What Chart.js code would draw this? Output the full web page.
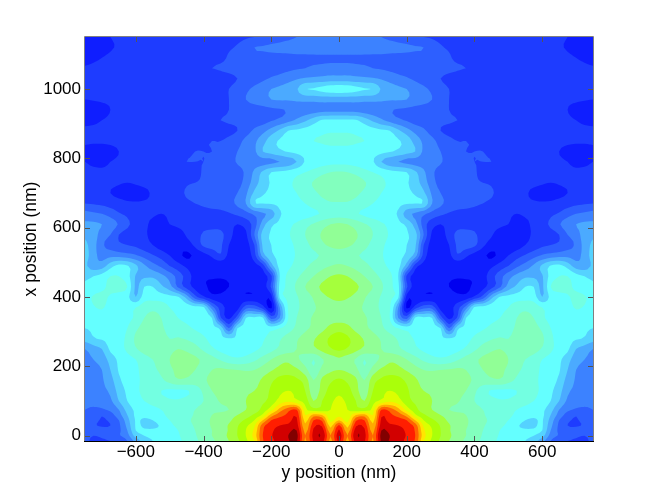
<!DOCTYPE html>
<html>
<head>
<meta charset="utf-8">
<title>field map</title>
<script src="https://cdn.jsdelivr.net/npm/chart.js@4/dist/chart.umd.min.js"></script>
<style>
  html, body { margin: 0; padding: 0; background: #fff; }
  canvas { display: block; }
</style>
</head>
<body>
<canvas id="fieldChart" width="654" height="498"></canvas>
<script>
// y position columns (nm), right half only, the map is mirrored around 0
const yColumns = [0, 25, 50, 75, 100, 125, 150, 175, 200, 225, 250, 275, 300, 325, 350, 375, 400, 425, 450, 475, 500, 525, 550, 575, 600, 625, 650, 675, 700, 725, 750];
// x position of each row (nm), bottom to top
const xRows = [-15, 0, 15, 30, 45, 60, 75, 100, 130, 160, 190, 220, 250, 280, 310, 340, 370, 400, 430, 460, 490, 520, 550, 580, 610, 640, 670, 700, 730, 760, 790, 820, 850, 880, 910, 940, 970, 1000, 1030, 1060, 1090, 1120, 1150];
// field level, one row per xRows entry
const fieldLevels = [
  [18.4, 15.6, 18.6, 18.2, 15.8, 19.2, 18.9, 18.5, 17.7, 16.9, 14, 12.8, 11.8, 11, 10.4, 9.8, 9.3, 8.8, 8.3, 7.8, 7.4, 7.2, 7, 6.4, 5.4, 4, 3.2, 3, 2.8, 2.8, 3.2],
  [18.6, 16, 18.9, 18.4, 16, 19.4, 19, 18.6, 17.9, 17, 14.4, 13, 12, 11.2, 10.5, 10, 9.5, 8.9, 8.4, 7.9, 7.5, 7.3, 7.2, 7, 6.4, 4.6, 3.9, 3.6, 3.2, 3, 3.4],
  [18.2, 15.4, 18.6, 18.2, 15.6, 19, 18.7, 18.4, 17.8, 16.9, 14.2, 13, 12, 11.1, 10.5, 10, 9.5, 9, 8.5, 8, 7.6, 7.3, 7.2, 7.1, 7, 5, 3.8, 3.4, 3.6, 3.8, 3.6],
  [17.2, 14.6, 17.8, 17.7, 15.2, 18.5, 18.2, 18, 17.6, 16.6, 13.8, 12.8, 11.9, 11.1, 10.5, 10.1, 9.6, 9.1, 8.7, 8.2, 7.8, 7.2, 6.6, 6.8, 7.1, 5.3, 3.8, 3, 2.8, 3.2, 3.7],
  [15, 13.6, 16.8, 17, 14.6, 18.2, 17.6, 17.4, 17, 15, 13, 12.2, 11.5, 10.8, 10.4, 10.1, 9.7, 9.2, 8.8, 8.3, 8, 7.7, 7, 6.8, 7.1, 5.6, 4, 3.2, 2.9, 3.4, 3.9],
  [13.7, 13.2, 15, 15.4, 14, 17.8, 17.2, 16.6, 15.4, 13.2, 12.2, 11.5, 11, 10.6, 10.3, 10, 9.6, 9.1, 8.7, 8.3, 8.1, 7.9, 7.6, 7.3, 7.2, 6, 4.6, 3.6, 3.1, 3.6, 4],
  [13.5, 13, 12.4, 12.4, 13.4, 17, 16.6, 15.4, 13.6, 12.4, 11.4, 11, 10.6, 10, 9.8, 9.8, 9.4, 9, 8.6, 8.3, 8.1, 8, 7.8, 7.5, 7.2, 6.4, 5, 4.2, 3.9, 3.9, 4],
  [13.2, 12.8, 12, 11, 12.6, 13.2, 13.8, 13.4, 12.4, 11.8, 11.3, 11, 10.7, 10.4, 10.1, 9.6, 9, 8.6, 8.3, 8.1, 8.1, 8.2, 8.2, 8, 7.6, 7, 6, 4.8, 4.4, 4.2, 4.2],
  [12.8, 12.4, 11.4, 10.4, 12, 12.8, 13, 12.8, 12.2, 11.4, 11, 10.9, 10.8, 10.6, 10.4, 10, 9.2, 8.4, 7.9, 7.8, 7.8, 8, 8.2, 8.2, 7.8, 7.2, 6.4, 5.2, 4.8, 4.6, 4.6],
  [12.2, 11.8, 11.2, 10, 11.6, 12.2, 12.6, 12.4, 11.8, 11.2, 10.6, 10.6, 10.7, 10.8, 10.7, 10.4, 9.8, 9.6, 9.8, 9.9, 9.4, 8.8, 8.4, 8.2, 7.8, 7.4, 6.8, 5.6, 4.9, 4.7, 4.6],
  [11, 10.8, 10.3, 9.2, 10.4, 11.2, 11.4, 11.3, 10.9, 10.4, 10, 9.9, 10, 10.1, 10.2, 10, 9.6, 10, 10.2, 10.2, 9.8, 9.2, 8.8, 8.4, 7.8, 7.4, 7.1, 6, 5, 4.8, 4.7],
  [10.8, 10.4, 9.9, 9, 9.6, 10.2, 10.8, 10.6, 10, 9.4, 8.8, 8.4, 8.2, 8.4, 8.9, 9.4, 9.8, 10.2, 10.4, 10.4, 10, 9.4, 9, 8.6, 8, 7.6, 7.2, 6.4, 5.4, 5, 4.8],
  [12.2, 11.9, 11.3, 10.8, 10.4, 10, 9.6, 9.2, 8.7, 8.2, 7.8, 7.5, 7.4, 7.5, 7.7, 8.2, 8.8, 9.4, 9.8, 10, 9.7, 9.6, 9.6, 9.4, 8.9, 8.2, 7.6, 7.2, 6, 5.5, 5],
  [12.6, 12.2, 11.5, 10.9, 10.4, 9.9, 9.4, 8.9, 8.4, 7.9, 7.6, 7.3, 7.1, 7.1, 7.2, 7.6, 8.2, 8.6, 8.9, 9.1, 9, 9.5, 9.8, 9.8, 9.2, 8.2, 7.7, 7.3, 7.1, 6.9, 6.4],
  [11.6, 11.3, 10.7, 10.2, 9.8, 9.2, 8.6, 8, 7.6, 7.4, 7.3, 7.2, 7, 4, 6.8, 7.2, 7.6, 7.9, 8.2, 8.4, 8.6, 9.2, 9.6, 9.4, 8.8, 8, 7.6, 7.3, 7.2, 7.1, 7],
  [10.6, 10.6, 10.4, 10.1, 9.7, 9, 8, 5, 3.6, 7.2, 7.2, 7, 3.6, 1.8, 3.2, 7, 7.3, 7.6, 7.8, 8, 8.3, 9, 9.2, 9, 8.2, 7.7, 7.4, 7.2, 7.5, 7.3, 7.1],
  [10.6, 10.5, 10.2, 9.9, 9.4, 8.8, 8.1, 5, 0.8, 2.5, 3.6, 3.6, 1.6, 1.6, 2.6, 4.5, 7.2, 7.4, 7.6, 7.8, 8, 8.6, 8.8, 8.6, 8, 7.6, 7.4, 7.6, 8.1, 7.9, 7.4],
  [11.3, 11.1, 10.7, 10.1, 9.5, 8.9, 8.2, 7.2, 1.6, 1.2, 1.2, 1.2, 1.3, 1.4, 1.3, 1.4, 2.2, 3.4, 5.6, 7.1, 7.3, 7.5, 7.6, 7.5, 6, 7.3, 7.6, 7.9, 8.2, 8.1, 7.6],
  [12, 11.7, 11.2, 10.6, 10, 9.2, 8.2, 7.3, 3.2, 1.5, 1.2, 1.1, 1.1, 1, 0.7, 0.8, 1.2, 1.7, 2.6, 3.8, 5.4, 6.2, 7, 7, 5.8, 8, 8.4, 8.2, 7.8, 7.4, 7.2],
  [11.2, 11, 10.5, 10, 9.4, 8.8, 8.2, 7, 2.8, 1.6, 1.3, 1.2, 1.2, 1.1, 1.1, 1.1, 1.1, 1.6, 2.6, 3.6, 4.6, 5.3, 5.8, 5.8, 5.9, 7.4, 8, 8, 7.4, 7, 6.8],
  [10.2, 10, 9.7, 9.3, 8.8, 8.3, 7.8, 7.3, 5.5, 2.5, 1.6, 1.3, 1.2, 1.2, 1.2, 1.2, 1.3, 1.4, 1.8, 2.4, 3, 3.8, 4.4, 5.2, 6.2, 7.1, 7.3, 6.6, 5.5, 5.4, 6.2],
  [9.4, 9.3, 9.1, 8.8, 8.5, 8.1, 7.6, 7.2, 6.8, 5.5, 2.6, 1.4, 1.4, 1.7, 2.9, 2.2, 1.6, 1.2, 0.8, 1.3, 2, 2.6, 3.1, 3.6, 4.1, 4.4, 4.6, 4.7, 4.6, 5.4, 6.4],
  [10.4, 10.2, 9.8, 9.3, 8.7, 8.2, 7.7, 7.3, 7, 6.2, 3, 1.6, 1.5, 2, 3.2, 3.4, 3.2, 2.2, 1.6, 1.3, 1.2, 1.5, 2, 2.4, 2.8, 3, 3.2, 3.6, 4.2, 5.4, 6.2],
  [10.6, 10.5, 10.1, 9.6, 9, 8.4, 7.9, 7.4, 7.1, 6.4, 4, 1.8, 1.6, 2.4, 3.3, 3.4, 3.2, 2.4, 2.1, 1.5, 1.2, 1.4, 1.8, 2.1, 2.3, 2.6, 3, 4, 4.5, 5.5, 5.8],
  [10.2, 10, 9.6, 9.1, 8.7, 8.2, 7.7, 7.2, 6.8, 5.5, 3.5, 2.4, 2, 2.4, 2.6, 2.6, 2.5, 2.4, 2.3, 2.2, 2, 1.6, 1.8, 2.2, 2.6, 3.2, 3.9, 4.6, 5, 5.2, 5.2],
  [8.5, 8.4, 8.1, 7.8, 7.5, 7.2, 7.1, 6.9, 5.4, 4.8, 4.2, 3.6, 3.2, 2.9, 2.7, 2.6, 2.5, 2.4, 2.3, 2.2, 2.1, 2, 2.1, 2.2, 2.4, 2.8, 3.1, 3.6, 4, 4.2, 4.4],
  [8.9, 8.9, 8.7, 8.4, 8, 7.7, 7.4, 7.2, 7.1, 7, 6.9, 5, 4.2, 3.7, 3.5, 3.4, 3.2, 3, 2.8, 2.5, 2.3, 2.2, 2.1, 2.1, 2.1, 2.2, 2.4, 2.6, 2.8, 2.9, 3],
  [9.6, 9.5, 9.2, 8.8, 8.4, 8, 7.7, 7.3, 7.1, 6.9, 6.2, 4.8, 4, 3.6, 3.5, 3.4, 3.3, 3.2, 3.1, 2.7, 2.4, 2.2, 2.1, 1.8, 1.6, 1.5, 1.7, 2, 2.3, 2.4, 2.6],
  [10, 9.9, 9.6, 9.1, 8.6, 8.2, 7.8, 7.4, 7.1, 6.5, 5.5, 4.4, 3.6, 3.3, 3.2, 3.2, 3.1, 3, 2.9, 2.6, 2.3, 2.2, 2.2, 2.2, 2.1, 2, 2.1, 2.2, 2.2, 2.3, 2.4],
  [9.1, 9, 8.7, 8.3, 8, 7.7, 7.4, 7.2, 7, 6.2, 5.2, 4.2, 3.6, 3.4, 3.3, 3.2, 3.1, 2.7, 2.6, 2.4, 2.3, 2.3, 2.3, 2.2, 2.2, 2.2, 2.2, 2.2, 2.2, 2.3, 2.4],
  [7.7, 7.7, 7.6, 7.4, 7.1, 6, 5.4, 5, 4.7, 4.6, 4.5, 4.4, 4.1, 3.6, 3.2, 3.1, 3, 3, 3, 2.9, 2.7, 2.5, 2.3, 2.2, 2.2, 2.1, 2.1, 2, 1.7, 1.7, 2],
  [7.7, 7.7, 7.6, 7.5, 7.4, 7.3, 7.1, 6.8, 6.4, 6, 4.8, 4.4, 4, 3.4, 3.1, 3, 3, 3, 2.8, 2.6, 2.5, 2.3, 2.2, 2.2, 2.1, 2.1, 2, 1.7, 1.4, 1.4, 1.7],
  [8.2, 8.2, 8.1, 8, 7.8, 7.6, 7.3, 7.1, 6.6, 5.6, 4.8, 4.3, 3.6, 3.2, 3, 3, 2.9, 2.7, 2.5, 2.4, 2.4, 2.3, 2.3, 2.3, 2.2, 2.2, 2.2, 2.2, 2.2, 2.2, 2.2],
  [7.9, 7.9, 7.8, 7.6, 7.4, 7.2, 7, 6.2, 5.4, 4.7, 4.2, 3.5, 3, 2.8, 2.7, 2.7, 2.6, 2.5, 2.4, 2.4, 2.3, 2.3, 2.3, 2.3, 2.3, 2.3, 2.3, 2.3, 2.3, 2.3, 2.3],
  [7.2, 7.2, 7.1, 6.5, 5.8, 5.2, 4.6, 4.2, 3.9, 3.6, 3.4, 3.2, 3.2, 3.1, 3, 2.9, 2.6, 2.4, 2.4, 2.3, 2.3, 2.3, 2.3, 2.3, 2.3, 2.3, 2.3, 2.2, 2, 1.7, 1.5],
  [4.6, 4.6, 4.6, 4.5, 4.4, 4.3, 4.1, 3.9, 3.8, 3.7, 3.6, 3.5, 3.4, 3, 2.8, 2.7, 2.6, 2.5, 2.5, 2.5, 2.4, 2.3, 2.3, 2.3, 2.3, 2.3, 2.2, 2, 1.5, 1.2, 1.1],
  [5.4, 5.4, 5.4, 5.3, 5.3, 5.2, 5.1, 5.1, 5, 4.6, 4.3, 4, 3.5, 3, 2.8, 2.7, 2.6, 2.6, 2.5, 2.5, 2.4, 2.3, 2.2, 2.2, 2.2, 2.2, 2.1, 2.2, 2.2, 2.1, 2],
  [7.6, 7.5, 7.3, 7.1, 6.9, 5.9, 5.5, 5.2, 5, 4.6, 4.2, 3.8, 3.3, 3, 2.8, 2.7, 2.6, 2.5, 2.4, 2.4, 2.4, 2.3, 2.3, 2.3, 2.3, 2.3, 2.3, 2.3, 2.2, 2.1, 2],
  [5.4, 5.4, 5.3, 5.2, 5.1, 4.9, 4.6, 4.3, 4.1, 3.8, 3.5, 3.2, 3, 2.8, 2.6, 2.5, 2.5, 2.4, 2.4, 2.4, 2.3, 2.3, 2.3, 2.3, 2.3, 2.3, 2.4, 2.4, 2.4, 2.3, 2.2],
  [4.4, 4.4, 4.3, 4.2, 4, 3.9, 3.8, 3.7, 3.6, 3.5, 3.4, 3.4, 3.3, 3.2, 3.1, 3, 2.9, 2.6, 2.4, 2.3, 2.2, 2.2, 2.3, 2.4, 2.4, 2.4, 2.4, 2.4, 2.3, 2.2, 2.1],
  [3.8, 3.8, 3.8, 3.8, 3.8, 3.8, 3.7, 3.7, 3.7, 3.6, 3.6, 3.5, 3.4, 3.1, 2.8, 2.7, 2.6, 2.6, 2.6, 2.5, 2.3, 2.3, 2.4, 2.4, 2.4, 2.4, 2.3, 2.2, 2, 1.8, 1.6],
  [4.7, 4.7, 4.7, 4.6, 4.5, 4.4, 4.4, 4.3, 4.2, 4.1, 4, 3.5, 3.1, 2.9, 2.8, 2.7, 2.6, 2.6, 2.5, 2.5, 2.4, 2.4, 2.3, 2.3, 2.3, 2.2, 2.1, 1.9, 1.6, 1.5, 1.4],
  [4.6, 4.6, 4.6, 4.5, 4.3, 4, 3.8, 3.6, 3.4, 3.2, 3, 2.9, 2.8, 2.7, 2.6, 2.6, 2.5, 2.5, 2.5, 2.4, 2.4, 2.4, 2.3, 2.3, 2.3, 2.2, 2.1, 2, 1.8, 1.8, 2]
];
// one colour per contour band, index = floor(level)
const bandColors = ['#0000f0', '#0f1eff', '#1e3cff', '#2d5fff', '#3c82ff', '#4baaff', '#55d2ff', '#64ffff', '#73ffe1', '#82ffbe', '#91ff96', '#a5ff3c', '#aaff0a', '#dcff00', '#ffe600', '#ffaa00', '#ff6400', '#ff1e00', '#d20000', '#820000'];
const yTicks = [-600, -400, -200, 0, 200, 400, 600];
const xTicks = [0, 200, 400, 600, 800, 1000];

// mirror the right half to get the full map
const fullColumns = yColumns.slice(1).reverse().map(v => -v).concat(yColumns);
const fullRows = fieldLevels.map(r => r.slice(1).reverse().concat(r));

// the contour lines are rounded off between grid nodes when drawing, like a contourf
const SMOOTH = 3;
function cubic(p0, p1, p2, p3, t) {
  return 0.5 * (2 * p1 + (p2 - p0) * t + (2 * p0 - 5 * p1 + 4 * p2 - p3) * t * t + (3 * p1 - p0 - 3 * p2 + p3) * t * t * t);
}
function smoothLine(vals) {
  const out = [];
  for (let i = 0; i < vals.length - 1; i++) {
    const p0 = vals[Math.max(i - 1, 0)], p3 = vals[Math.min(i + 2, vals.length - 1)];
    for (let s = 0; s < SMOOTH; s++) out.push(cubic(p0, vals[i], vals[i + 1], p3, s / SMOOTH));
  }
  out.push(vals[vals.length - 1]);
  return out;
}
function smoothAxis(vals) {
  const out = [];
  for (let i = 0; i < vals.length - 1; i++) {
    for (let s = 0; s < SMOOTH; s++) out.push(vals[i] + (vals[i + 1] - vals[i]) * s / SMOOTH);
  }
  out.push(vals[vals.length - 1]);
  return out;
}
function smoothGrid(rows) {
  const wide = rows.map(smoothLine);
  const cols = wide[0].map((_, c) => smoothLine(wide.map(r => r[c])));
  return cols[0].map((_, r) => cols.map(col => col[r]));
}

// keep the part of a cell that is at or above the band level
function clipCell(corners, level) {
  const out = [];
  for (let i = 0; i < corners.length; i++) {
    const a = corners[i], b = corners[(i + 1) % corners.length];
    if (a.v >= level) out.push(a);
    if ((a.v >= level) !== (b.v >= level)) {
      const t = (level - a.v) / (b.v - a.v);
      out.push({ px: a.px + t * (b.px - a.px), py: a.py + t * (b.py - a.py), v: level });
    }
  }
  return out;
}

const contourPlugin = {
  id: 'contourPlugin',
  beforeDatasetsDraw(chart) {
    const { ctx, chartArea: area, scales: { x, y } } = chart;
    ctx.save();
    ctx.beginPath();
    ctx.rect(area.left, area.top, area.width, area.height);
    ctx.clip();
    ctx.fillStyle = bandColors[0];
    ctx.fillRect(area.left, area.top, area.width, area.height);
    const grid = smoothGrid(fullRows);
    const px = smoothAxis(fullColumns).map(v => x.getPixelForValue(v));
    const py = smoothAxis(xRows).map(v => y.getPixelForValue(v));
    for (let k = 1; k < bandColors.length; k++) {
      ctx.beginPath();
      for (let r = 0; r < py.length - 1; r++) {
        for (let c = 0; c < px.length - 1; c++) {
          const v00 = grid[r][c], v01 = grid[r][c + 1], v11 = grid[r + 1][c + 1], v10 = grid[r + 1][c];
          if (v00 < k && v01 < k && v11 < k && v10 < k) continue;
          const poly = clipCell([
            { px: px[c], py: py[r], v: v00 },
            { px: px[c + 1], py: py[r], v: v01 },
            { px: px[c + 1], py: py[r + 1], v: v11 },
            { px: px[c], py: py[r + 1], v: v10 }
          ], k);
          if (poly.length < 3) continue;
          ctx.moveTo(poly[0].px, poly[0].py);
          for (let i = 1; i < poly.length; i++) ctx.lineTo(poly[i].px, poly[i].py);
          ctx.closePath();
        }
      }
      ctx.fillStyle = bandColors[k];
      ctx.fill();
    }
    ctx.restore();
  },
  afterDraw(chart) {
    // box and inward ticks on all four sides
    const { ctx, chartArea: area, scales: { x, y } } = chart;
    ctx.save();
    ctx.lineWidth = 1;
    ctx.strokeStyle = '#555';
    ctx.beginPath();
    x.ticks.forEach(t => {
      const p = Math.round(x.getPixelForValue(t.value)) + 0.5;
      ctx.moveTo(p, area.bottom); ctx.lineTo(p, area.bottom - 5);
      ctx.moveTo(p, area.top); ctx.lineTo(p, area.top + 5);
    });
    y.ticks.forEach(t => {
      const p = Math.round(y.getPixelForValue(t.value)) + 0.5;
      ctx.moveTo(area.left, p); ctx.lineTo(area.left + 5, p);
      ctx.moveTo(area.right, p); ctx.lineTo(area.right - 5, p);
    });
    ctx.stroke();
    ctx.strokeStyle = '#808080';
    ctx.beginPath();
    ctx.moveTo(area.left - 0.5, area.bottom);
    ctx.lineTo(area.left - 0.5, area.top - 0.5);
    ctx.lineTo(area.right + 0.5, area.top - 0.5);
    ctx.lineTo(area.right + 0.5, area.bottom);
    ctx.stroke();
    ctx.strokeStyle = '#000';
    ctx.beginPath();
    ctx.moveTo(area.left - 1, area.bottom + 0.5);
    ctx.lineTo(area.right + 1, area.bottom + 0.5);
    ctx.stroke();
    ctx.restore();
  }
};

const labelFont = { family: '"Liberation Sans", Arial, sans-serif', size: 17.5 };
const tickFont = { family: '"Liberation Sans", Arial, sans-serif', size: 17 };
const minusLabel = v => String(v).replace('-', '\u2212');

new Chart(document.getElementById('fieldChart').getContext('2d'), {
  type: 'scatter',
  data: {
    datasets: [{
      label: 'field',
      data: xRows.flatMap((xv, r) => fullColumns.map((yv, c) => ({ x: yv, y: xv, level: fullRows[r][c] }))),
      pointRadius: 0,
      pointHoverRadius: 0
    }]
  },
  options: {
    responsive: false,
    animation: false,
    layout: { padding: { top: 37, right: 61, left: 0, bottom: 0 } },
    plugins: { legend: { display: false }, tooltip: { enabled: false } },
    scales: {
      x: {
        type: 'linear',
        min: -750,
        max: 750,
        afterBuildTicks: s => { s.ticks = yTicks.map(value => ({ value })); },
        afterFit: s => { s.height = 57; },
        grid: { display: false, drawTicks: false },
        border: { display: false },
        ticks: { color: '#000', font: tickFont, padding: 1, maxRotation: 0, autoSkip: false, callback: minusLabel },
        title: { display: true, text: 'y position (nm)', color: '#000', font: labelFont, padding: { top: 0, bottom: 14 } }
      },
      y: {
        type: 'linear',
        min: -15,
        max: 1150,
        afterBuildTicks: s => { s.ticks = xTicks.map(value => ({ value })); },
        afterFit: s => { s.width = 85; },
        grid: { display: false, drawTicks: false },
        border: { display: false },
        ticks: { color: '#000', font: tickFont, padding: 4, autoSkip: false, callback: minusLabel },
        title: { display: true, text: 'x position (nm)', color: '#000', font: labelFont, padding: { top: 21, bottom: 0 } }
      }
    }
  },
  plugins: [contourPlugin]
});
</script>
</body>
</html>
